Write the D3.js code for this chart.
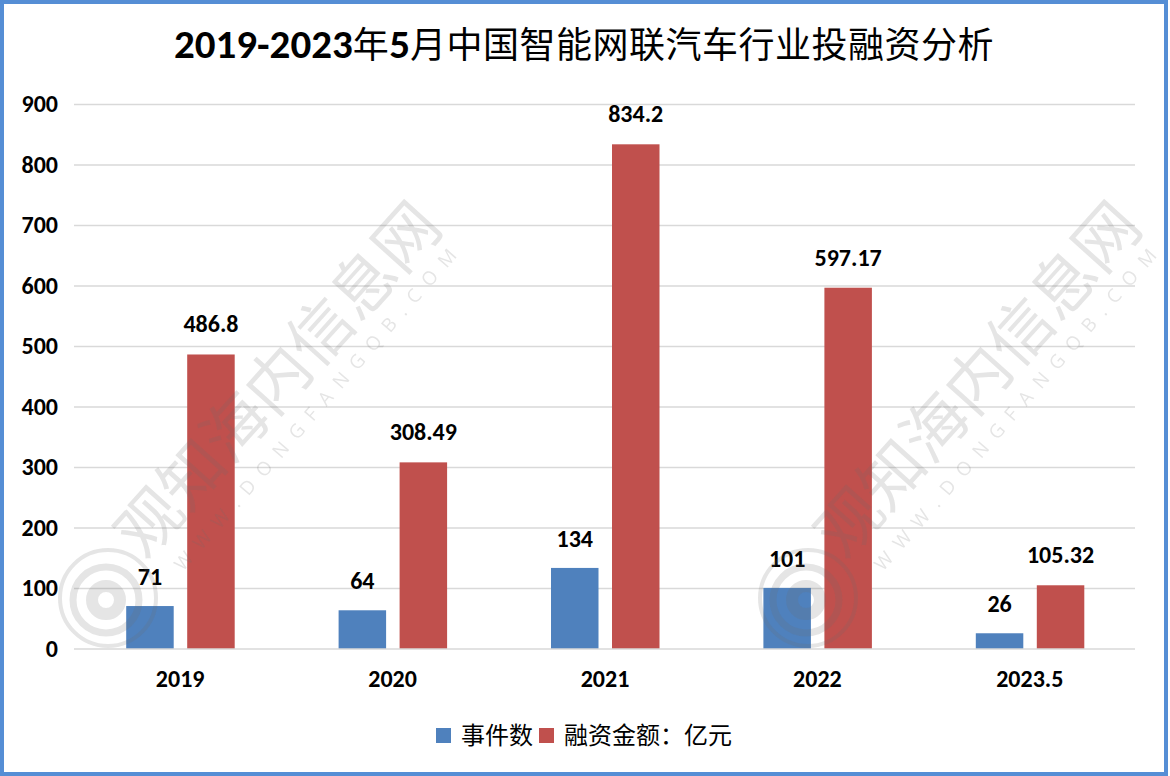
<!DOCTYPE html>
<html><head><meta charset="utf-8"><script src="https://cdn.jsdelivr.net/npm/d3@7"></script>
<style>html,body{margin:0;padding:0;background:#fff}svg{display:block}</style></head><body>
<svg id="c" width="1170" height="776"></svg>
<script>
const categories=["2019","2020","2021","2022","2023.5"];
const events=[71,64,134,101,26];
const funding=[486.8,308.49,834.2,597.17,105.32];
const fundingLabels=["486.8","308.49","834.2","597.17","105.32"];
const ticks=[0,100,200,300,400,500,600,700,800,900];
const seriesNames=["事件数","融资金额：亿元"];
const colors=["#4f81bd","#c0504d"];
const latin="Carlito,Calibri,'Open Sans',sans-serif";
const cjk="'Noto Sans CJK SC',sans-serif";
const svg=d3.select("#c");
svg.append("rect").attr("x",2).attr("y",2).attr("width",1164).attr("height",772).attr("fill","#fff").attr("stroke","#558ed5").attr("stroke-width",4);
const y=d3.scaleLinear().domain([0,900]).range([649,104.5]);
const x=d3.scaleBand().domain(categories).range([74,1136]);
const cx=c=>x(c)+x.bandwidth()/2;
svg.append("g").selectAll("line").data(ticks.slice(1)).join("line").attr("x1",74).attr("x2",1135).attr("y1",d=>y(d)).attr("y2",d=>y(d)).attr("stroke","#d9d9d9").attr("stroke-width",1.6);
const barW=47.5, off=[-54,7];
[events,funding].forEach((vals,s)=>{
 svg.append("g").selectAll("rect").data(vals).join("rect")
  .attr("x",(d,i)=>cx(categories[i])+off[s]).attr("width",barW)
  .attr("y",d=>y(d)).attr("height",d=>y(0)-y(d)).attr("fill",colors[s]);
});
svg.append("line").attr("x1",74).attr("x2",1135).attr("y1",y(0)).attr("y2",y(0)).attr("stroke","#d9d9d9").attr("stroke-width",1.6);
const lbl=(t,xx,yy,anchor)=>svg.append("text").attr("x",xx).attr("y",yy).attr("font-family",latin).attr("font-size",24).attr("font-weight","700").attr("fill","#000").attr("text-anchor",anchor||"middle").text(t);
events.forEach((d,i)=>lbl(d,cx(categories[i])+off[0]+barW/2,y(d)-21));
funding.forEach((d,i)=>lbl(fundingLabels[i],cx(categories[i])+off[1]+barW/2,y(d)-22));
ticks.forEach(t=>lbl(t,58,y(t)+7.5,"end"));
categories.forEach(c=>lbl(c,cx(c),686.5));
// title
const title=svg.append("text").attr("x",584).attr("y",57.5).attr("text-anchor","middle").attr("fill","#000");
[["2019-2023",latin,41,700,0],["年",cjk,36,400,.5],["5",latin,41,700,0],["月中国智能网联汽车行业投融资分析",cjk,36,400,.5]].forEach(([t,f,s,w,ls])=>
 title.append("tspan").attr("font-family",f).attr("font-size",s).attr("font-weight",w).attr("letter-spacing",ls).text(t));
// legend
[[436,0],[539,1]].forEach(([lx,s])=>{
 svg.append("rect").attr("x",lx).attr("y",728).attr("width",15).attr("height",15).attr("fill",colors[s]);
 svg.append("text").attr("x",lx+25).attr("y",744).attr("font-family",cjk).attr("font-size",24).attr("fill","#000").text(seriesNames[s]);
});
// watermark overlay
const wm=svg.append("g").attr("fill","#6e6e6e").attr("opacity",.18);
[0,700].forEach(dx=>{
 wm.append("text").attr("transform",`translate(${145+dx},561) rotate(-48)`).attr("font-family",cjk).attr("font-size",64).attr("font-weight",400).text("观知海内信息网");
 wm.append("text").attr("transform",`translate(${183+dx},572) rotate(-49)`).attr("font-family","'Open Sans'").attr("font-size",19).attr("letter-spacing",10.5).text("WWW.DONGFANGQB.COM");
 const lg=wm.append("g").attr("fill","none").attr("stroke","#6e6e6e");
 lg.append("circle").attr("cx",108+dx).attr("cy",598).attr("r",48).attr("stroke-width",4);
 lg.append("circle").attr("cx",106+dx).attr("cy",600).attr("r",33).attr("stroke-width",7);
 lg.append("circle").attr("cx",106+dx).attr("cy",600).attr("r",14).attr("stroke-width",12);
});
</script></body></html>
